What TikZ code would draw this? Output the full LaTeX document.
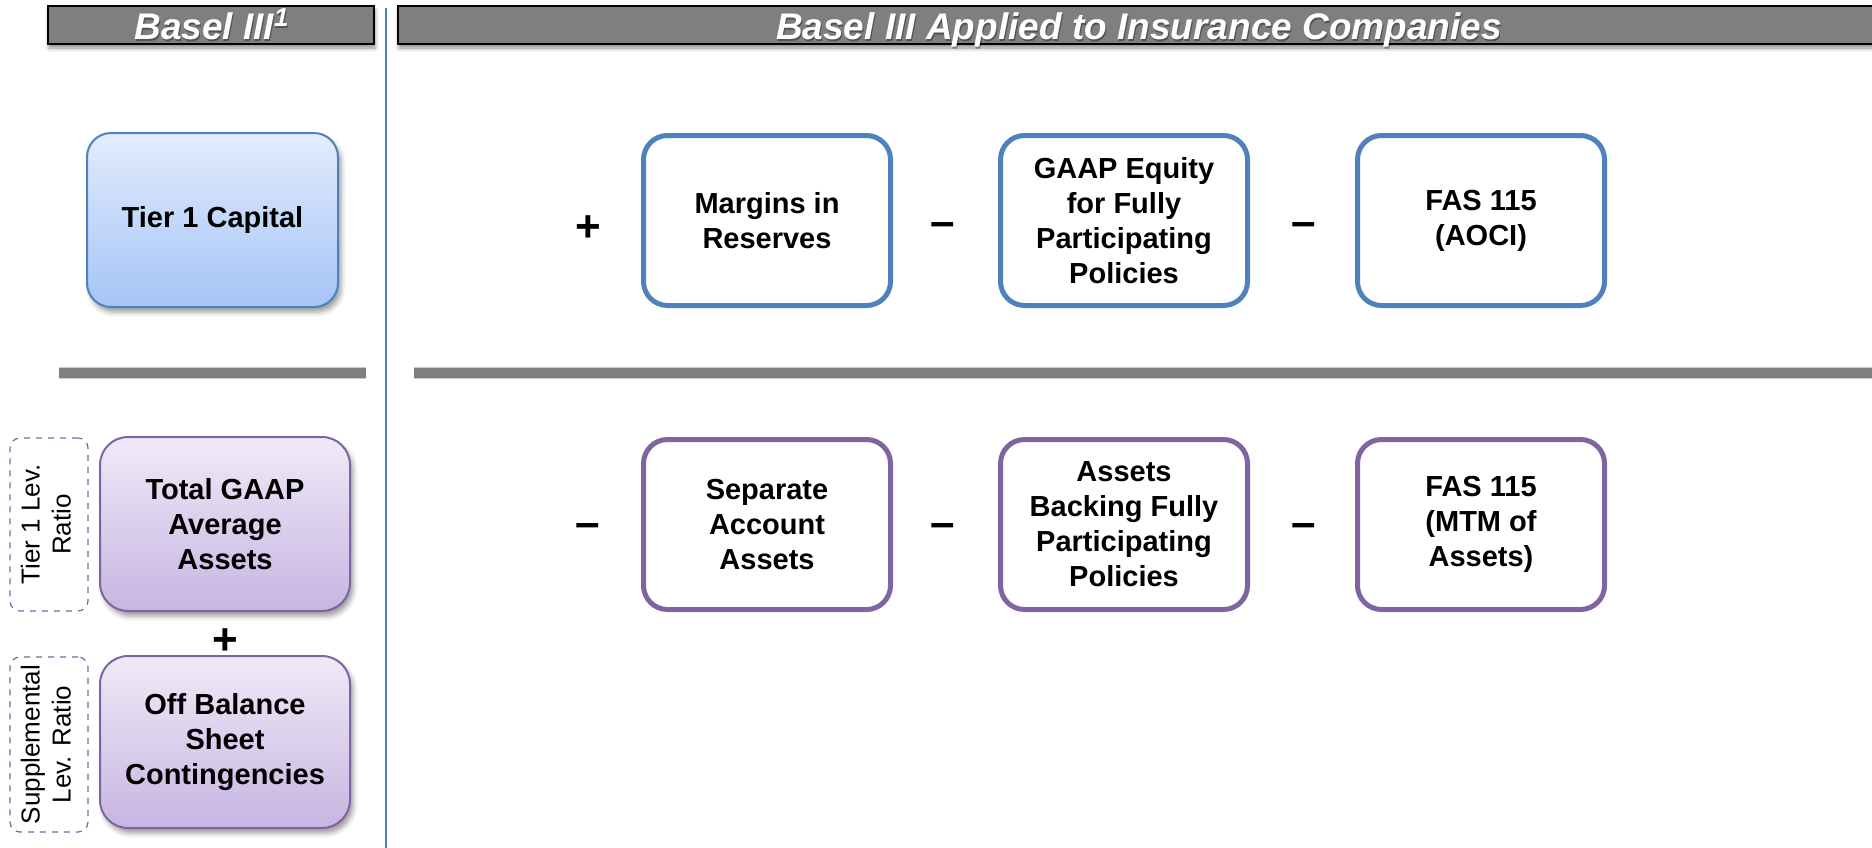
\documentclass[tikz,border=0pt]{standalone}
\usepackage{fontspec}
\setmainfont{Liberation Sans}
\usepackage{graphicx}
\usetikzlibrary{shadows.blur}

\definecolor{hdrgray}{HTML}{7F7F7F}
\definecolor{accblue}{HTML}{4F81BD}
\definecolor{accpurple}{HTML}{8064A2}
\definecolor{tiertop}{HTML}{E2ECFD}
\definecolor{tierbot}{HTML}{A5C4F7}
\definecolor{lavtop}{HTML}{EFEAF7}
\definecolor{lavbot}{HTML}{C7B5E2}

% size of the rotated ratio labels
\newcommand\ratiosize{\fontsize{13pt}{15.5pt}\selectfont}

\tikzset{
  hdrbox/.style={draw=black, line width=1pt, fill=hdrgray, minimum height=19pt,
    inner sep=0pt,
    blur shadow={shadow xshift=0.5pt, shadow yshift=-2pt, shadow blur radius=2pt, shadow opacity=45}},
  hdrtext/.style={text=white, inner sep=0pt, anchor=base,
    font=\fontsize{18.5pt}{22pt}\selectfont\bfseries\itshape},
  hdrtextshade/.style={hdrtext, text=black, opacity=0.35},
  sepbar/.style={draw=hdrgray, line width=5pt},
  sepedge/.style={draw=black!20, line width=6pt},
  divider/.style={draw=accblue, line width=1pt},
  boxtext/.style={align=center, inner sep=0pt,
    font=\fontsize{14.5pt}{17.5pt}\selectfont\bfseries},
  gradbox/.style={boxtext, rounded corners=12pt, line width=1pt,
    blur shadow={shadow xshift=1.5pt, shadow yshift=-2.5pt, shadow blur radius=2.5pt, shadow opacity=40}},
  tierbox/.style={gradbox, draw=accblue, top color=tiertop, bottom color=tierbot,
    minimum width=125.5pt, minimum height=87pt},
  lavbox/.style={gradbox, draw=accpurple, top color=lavtop, bottom color=lavbot,
    minimum width=125pt, minimum height=87pt, rounded corners=14pt},
  termbox/.style={boxtext, rounded corners=12pt, line width=2.5pt, fill=white,
    minimum width=123.5pt, minimum height=85pt},
  bluebox/.style={termbox, draw=accblue},
  purplebox/.style={termbox, draw=accpurple},
  ratiobox/.style={draw=accpurple, dashed, line width=0.6pt, rounded corners=5pt,
    minimum width=39pt, align=center, inner sep=0pt},
  sign/.style={inner sep=0pt, font=\fontsize{22pt}{24pt}\selectfont\bfseries}
}

\begin{document}
\begin{tikzpicture}[x=0.5pt, y=-0.5pt]
\useasboundingbox (0,0) rectangle (1872,847);
\clip (0,0) rectangle (1872,847);

% column divider
\coordinate (divtop) at (386,8);
\coordinate (divbot) at (386,850);
\draw[divider] (divtop) -- (divbot);

% column headers
\node[hdrbox, minimum width=163pt] (hleft) at (211,25) {};
\node[hdrbox, minimum width=741pt] (hright) at (1139,25) {};
\node[hdrtextshade] at (213,41.5) {Basel III\textsuperscript{1}};
\node[hdrtext] (hlefttext) at (212,39) {Basel III\textsuperscript{1}};
\node[hdrtextshade] at (1140,41.5) {Basel III Applied to Insurance Companies};
\node[hdrtext] (hrighttext) at (1139,39) {Basel III Applied to Insurance Companies};

% separators between capital and assets rows
\coordinate (sepL1) at (59,373);
\coordinate (sepL2) at (366,373);
\coordinate (sepR1) at (414,373);
\coordinate (sepR2) at (1880,373);
\draw[sepedge] (sepL1) -- (sepL2);
\draw[sepedge] (sepR1) -- (sepR2);
\draw[sepbar] (sepL1) -- (sepL2);
\draw[sepbar] (sepR1) -- (sepR2);

% Basel III column
\node[tierbox] (tier1) at (212.5,220) {Tier 1 Capital};
\node[lavbox] (gaap) at (225,524) {Total GAAP\\Average\\Assets};
\node[lavbox, minimum height=86pt] (offbal) at (225,742) {Off Balance\\Sheet\\Contingencies};
\node[sign] (plusleft) at (225,642) {+};
\node[ratiobox, minimum height=86.5pt] (t1lev) at (49,524.5)
  {\rotatebox{90}{\ratiosize\begin{tabular}{@{}c@{}}Tier 1 Lev.\\Ratio\end{tabular}}};
\node[ratiobox, minimum height=87.5pt] (suplev) at (49,744.5)
  {\rotatebox{90}{\ratiosize\begin{tabular}{@{}c@{}}Supplemental\\Lev. Ratio\end{tabular}}};

% capital adjustments
\node[sign] (capplus) at (588,229) {+};
\node[bluebox] (margins) at (767,220.5) {Margins in\\Reserves};
\node[sign] (capminusA) at (943,229) {\textendash};
\node[bluebox] (gaapeq) at (1124,220.5) {GAAP Equity\\for Fully\\Participating\\Policies};
\node[sign] (capminusB) at (1304,229) {\textendash};
\node[bluebox] (aoci) at (1481,220.5) {FAS 115\\(AOCI)};

% asset adjustments
\node[sign] (assminusA) at (588,530) {\textendash};
\node[purplebox] (separate) at (767,524.5) {Separate\\Account\\Assets};
\node[sign] (assminusB) at (943,530) {\textendash};
\node[purplebox] (backing) at (1124,524.5) {Assets\\Backing Fully\\Participating\\Policies};
\node[sign] (assminusC) at (1304,530) {\textendash};
\node[purplebox] (mtm) at (1481,524.5) {FAS 115\\(MTM of\\Assets)};
\end{tikzpicture}
\end{document}
